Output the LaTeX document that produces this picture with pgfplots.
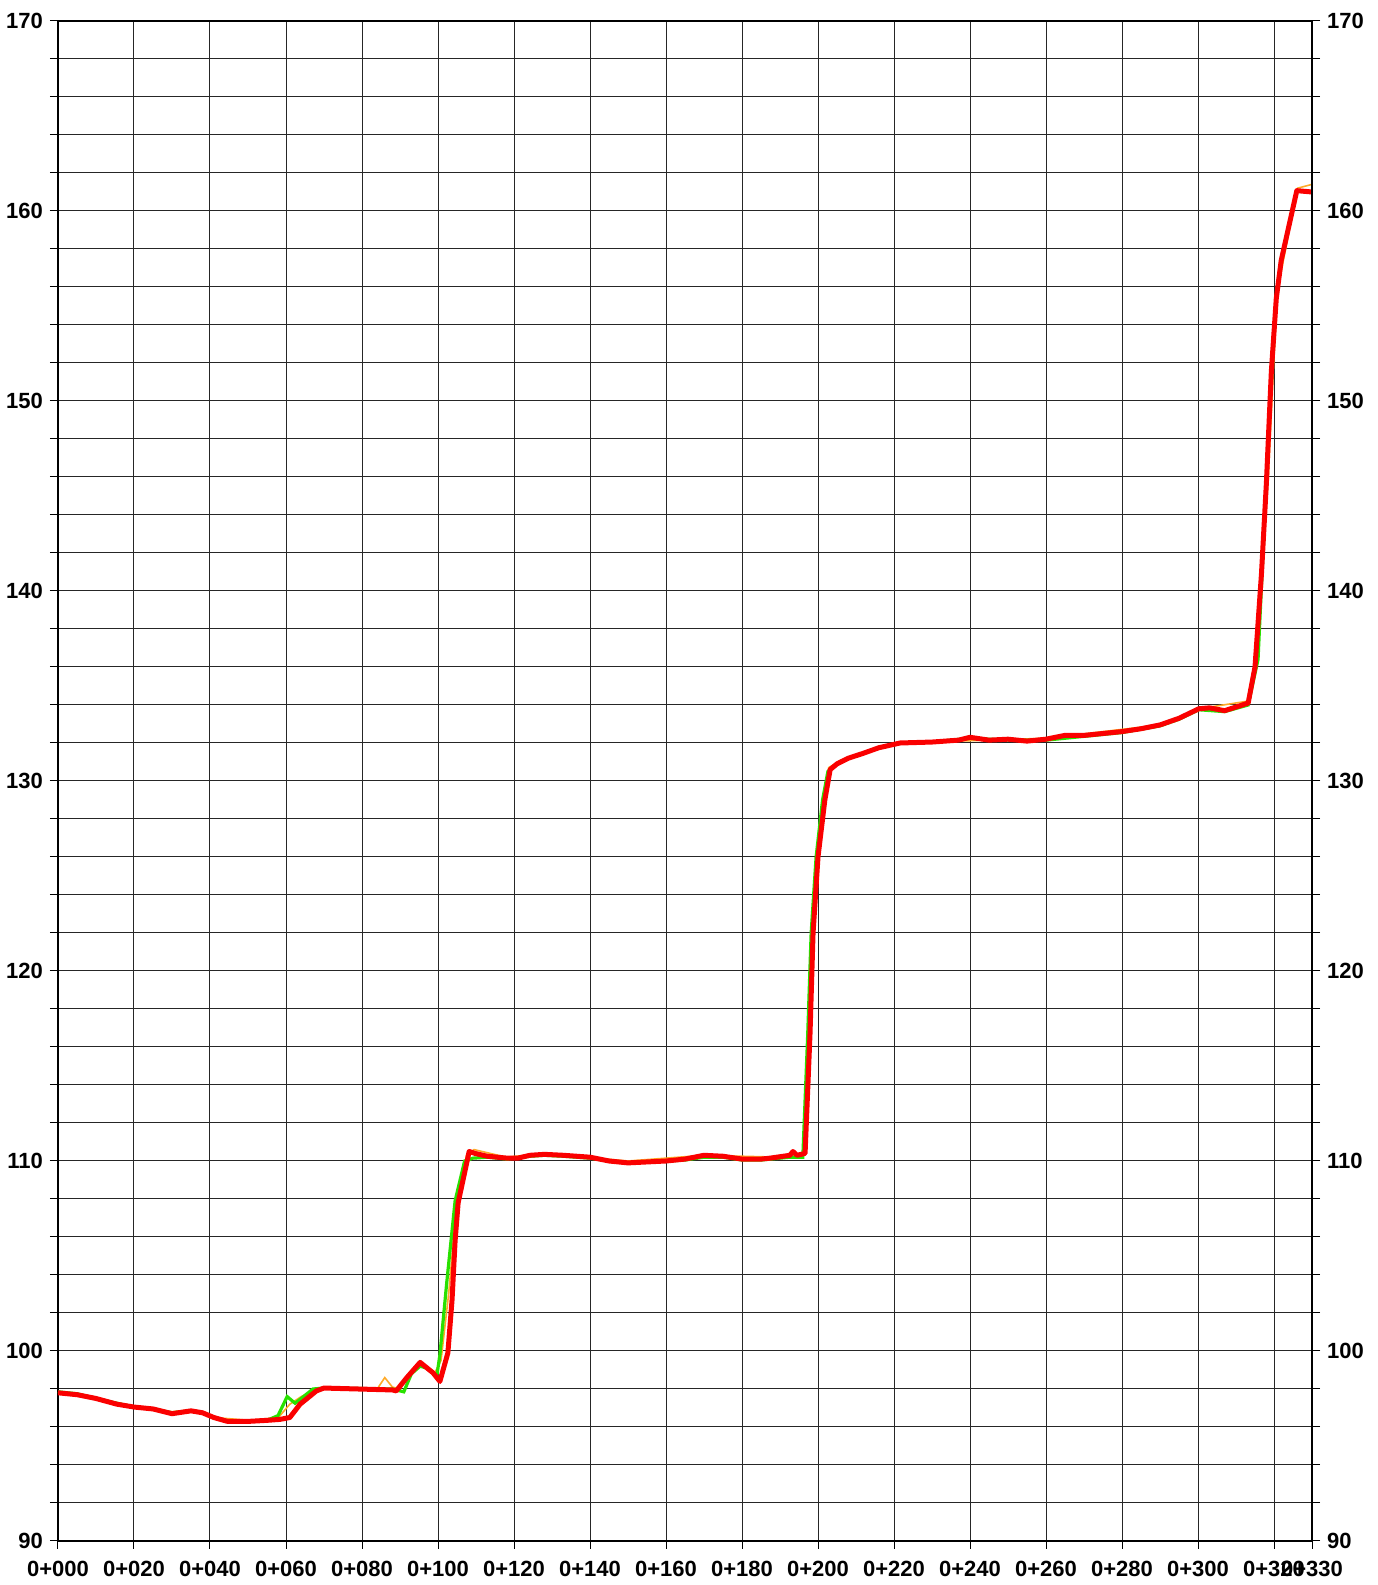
\documentclass[border=0pt]{standalone}
\usepackage{fontspec}
\setmainfont{Liberation Sans}
\usepackage{pgfplots}
\usepackage{pgfplotstable}
\pgfplotsset{compat=1.18}
\definecolor{lred}{RGB}{250,0,0}
\definecolor{lgreen}{RGB}{40,225,0}
\definecolor{lorange}{RGB}{255,170,40}

\pgfplotstableread{
x y
0 97.8
5 97.7
10 97.5
15.5 97.2
20 97.05
25 96.95
30 96.7
35 96.85
38 96.75
41 96.5
44.5 96.3
50.5 96.3
55 96.35
58.4 96.4
61 96.5
63.7 97.2
68 97.9
70 98.05
88 97.95
89 97.9
91.8 98.6
95.3 99.4
98.7 98.85
100.5 98.4
102.6 99.9
103.7 102.7
104.5 105.8
105.3 107.8
108.2 110.5
109.7 110.4
113 110.25
118.2 110.15
121 110.15
124.2 110.3
128 110.35
133 110.3
140 110.2
145 110.0
150 109.9
155 109.95
160 110.0
165 110.1
170 110.3
175 110.25
180 110.1
185 110.1
187.4 110.15
192.6 110.3
193.4 110.5
194.5 110.3
196.6 110.4
197.9 116.7
198.7 122
200 126
201.8 129
203.2 130.6
205 130.9
208 131.2
211.8 131.45
216 131.75
221.6 132.0
230 132.05
237 132.15
240 132.3
245 132.15
250 132.2
255 132.1
260 132.2
265 132.4
270 132.4
275 132.5
280 132.6
285 132.75
290 132.95
295 133.3
300.2 133.8
303 133.85
307 133.7
313.2 134.1
315 136.0
316.7 140.9
318 145.7
319.3 151.55
320.6 155.4
321.9 157.4
326 161.07
330 161.0
}\redtab

\pgfplotstableread{
x y
0 97.85
5 97.75
10 97.5
15.5 97.25
20 97.05
25 96.95
30 96.75
35 96.85
38 96.75
41 96.5
44.5 96.3
50.5 96.3
55 96.35
57.9 96.6
60.3 97.6
62.4 97.25
67.1 98.0
70 98.05
88 98.0
90 97.9
91 97.85
93 98.8
95.3 99.2
97 99.1
99.7 98.7
100.5 99.8
102.3 103.6
104.5 107.9
107 110.0
109.2 110.15
113 110.2
118.2 110.1
124.2 110.25
128 110.3
133 110.25
140 110.15
145 110.0
150 109.9
155 109.95
160 110.0
165 110.05
170 110.2
175 110.2
180 110.05
185 110.05
192.6 110.2
196 110.2
197.3 116.7
198.2 122
199.5 126
201.2 129
202.6 130.5
205 130.9
208 131.2
211.8 131.45
216 131.75
221.6 132.0
230 132.05
240 132.25
250 132.15
260 132.15
270 132.35
280 132.55
290 132.9
295 133.25
300.2 133.75
307 133.65
313.2 134.0
315.8 136.4
317.1 142
318.9 149.6
320.6 155.4
321.9 157.4
326 161.07
330 161.0
}\greentab

\pgfplotstableread{
x y
0 97.85
10 97.5
20 97.1
30 96.8
35 96.9
41 96.5
50.5 96.35
58 96.5
61 97.2
64 97.6
68 98.0
84 98.0
86 98.6
88 98.1
90 98.0
93 98.9
95.3 99.3
99 98.8
100.8 99.5
102.8 103
104.8 107.5
107.5 110.3
109.5 110.6
118 110.2
128 110.4
150 110.0
170 110.3
190 110.2
196.2 110.3
197.6 117
199.8 126
202.8 130.7
206 131.1
221.6 132.0
260 132.25
290 132.95
300.2 133.8
313 134.2
315.2 136.6
318.5 146
320.8 155.7
326.2 161.2
330 161.4
}\orangetab

\begin{document}
\begin{tikzpicture}
\begin{axis}[
  scale only axis,
  width=627pt, height=760pt,
  xmin=0, xmax=330, ymin=90, ymax=170,
  xtick={0,20,...,320,330},
  xticklabels={0+000,0+020,0+040,0+060,0+080,0+100,0+120,0+140,0+160,0+180,0+200,0+220,0+240,0+260,0+280,0+300,0+320,0+330},
  ytick={90,100,...,170},
  minor ytick={92,94,...,168},
  grid=both,
  major grid style={black!85, line width=0.5pt},
  minor grid style={black!85, line width=0.5pt},
  tick align=outside,
  major tick length=4pt, minor tick length=4pt,
  xtick pos=lower, ytick pos=both,
  yticklabel pos=left,
  tick style={black, line width=0.5pt},
  axis line style={black, line width=0.6pt},
  ticklabel style={font=\fontsize{11}{13}\selectfont\bfseries},
  xticklabel style={yshift=-2.5pt},
  /pgf/number format/assume math mode=true,
  clip=false,
]
\addplot[lorange, line width=0.8pt] table[x=x,y=y] {\orangetab};
\addplot[lgreen, line width=1.6pt] table[x=x,y=y] {\greentab};
\addplot[lred, line width=2.5pt, line join=round] table[x=x,y=y] {\redtab};
\end{axis}
\begin{axis}[
  scale only axis,
  width=627pt, height=760pt,
  xmin=0, xmax=330, ymin=90, ymax=170,
  axis x line=none,
  axis y line*=right,
  ytick={90,100,...,170},
  tick align=outside,
  major tick length=4pt,
  tick style={black, line width=0.5pt},
  axis line style={black, line width=0.6pt},
  yticklabel pos=right,
  ticklabel style={font=\fontsize{11}{13}\selectfont\bfseries},
  /pgf/number format/assume math mode=true,
]
\addplot[draw=none] coordinates {(0,90)};
\end{axis}
\pgfresetboundingbox
\path ([shift={(-29pt,-22pt)}]current axis.south west) rectangle ([shift={(33pt,10.5pt)}]current axis.north east);
\end{tikzpicture}
\end{document}
